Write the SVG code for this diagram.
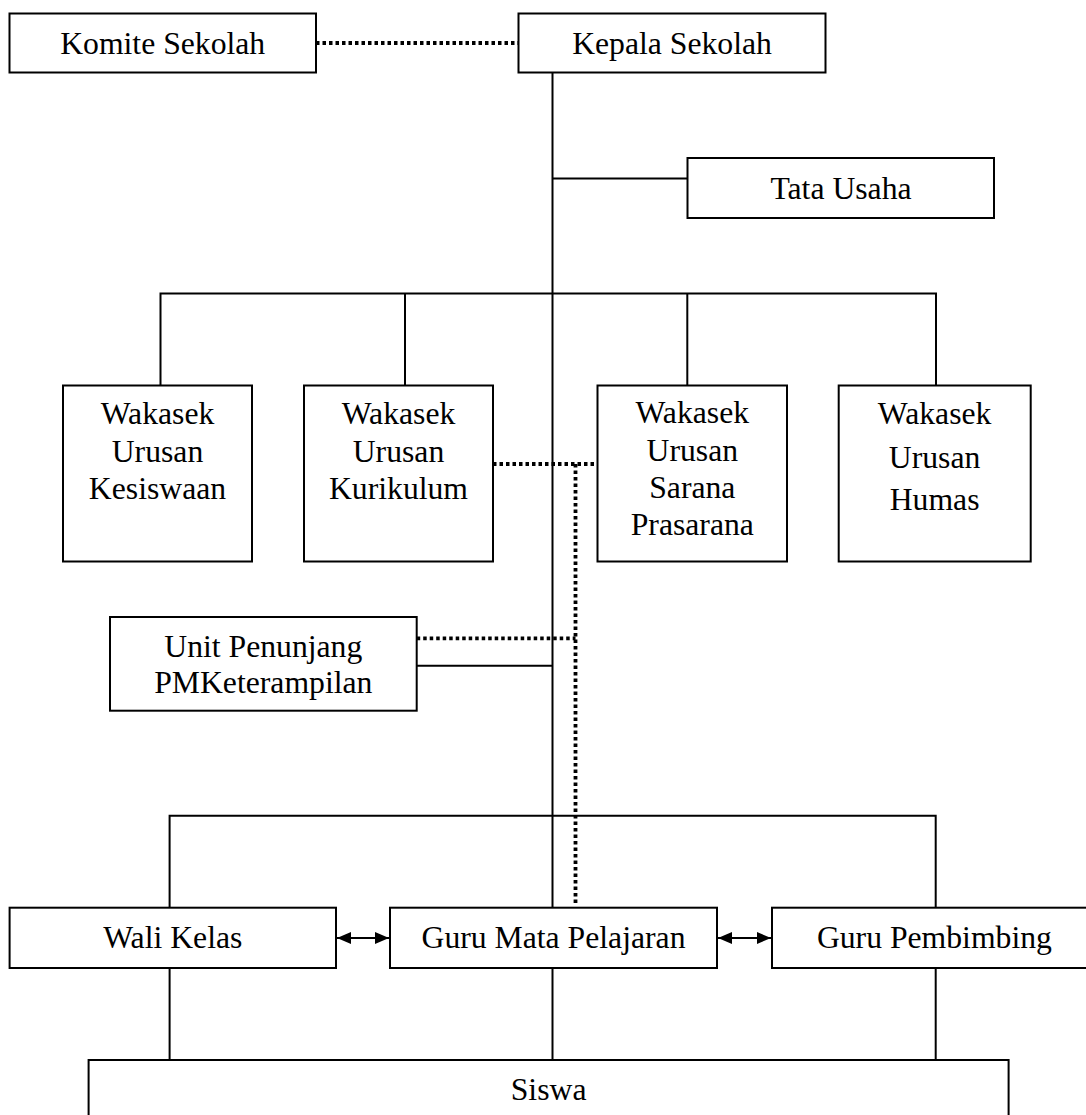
<svg xmlns="http://www.w3.org/2000/svg" width="1086" height="1115" viewBox="0 0 1086 1115">
<style>
.box{fill:#fff;stroke:#000;stroke-width:2}
.t{font-family:"Liberation Serif","Times New Roman",serif;font-size:31.7px;fill:#000;text-anchor:middle}
.ln{fill:none;stroke:#000;stroke-width:2}
.dot{fill:none;stroke:#000;stroke-width:3.8;stroke-dasharray:3.5 3}
.arr{fill:none;stroke:#000;stroke-width:2;marker-start:url(#ah);marker-end:url(#ah)}
</style>
<defs>
<marker id="ah" viewBox="0 0 14 12" refX="14" refY="6" markerWidth="14" markerHeight="12" markerUnits="userSpaceOnUse" orient="auto-start-reverse">
<path d="M0,0 L14,6 L0,12 z" fill="#000"/>
</marker>
</defs>
<rect width="1086" height="1115" fill="#fff"/>
<g id="connectors">
<line class="dot" x1="316" y1="43" x2="518.5" y2="43"/>
<line class="ln" x1="552.5" y1="72.5" x2="552.5" y2="908"/>
<line class="ln" x1="552.5" y1="178.5" x2="687.5" y2="178.5"/>
<polyline class="ln" points="160.5,385.5 160.5,293.5 936,293.5 936,385.5"/>
<line class="ln" x1="405" y1="293.5" x2="405" y2="385.5"/>
<line class="ln" x1="687.3" y1="293.5" x2="687.3" y2="385.5"/>
<line class="dot" x1="493" y1="464" x2="597.5" y2="464"/>
<line class="dot" x1="575.5" y1="464" x2="575.5" y2="906"/>
<line class="dot" x1="416.7" y1="638.3" x2="575.5" y2="638.3"/>
<line class="ln" x1="416.7" y1="665.7" x2="552.5" y2="665.7"/>
<polyline class="ln" points="169.6,907.7 169.6,815.7 935.7,815.7 935.7,907.7"/>
<line class="ln" x1="169.6" y1="968" x2="169.6" y2="1060"/>
<line class="ln" x1="552.5" y1="968" x2="552.5" y2="1060"/>
<line class="ln" x1="935.7" y1="968" x2="935.7" y2="1060"/>
<line class="arr" x1="337" y1="938" x2="389" y2="938"/>
<line class="arr" x1="718" y1="938" x2="771" y2="938"/>
</g>
<g id="komite">
<rect class="box" x="9.5" y="13.5" width="306.5" height="59"/>
<text class="t" x="162.7" y="54">Komite Sekolah</text>
</g>
<g id="kepala">
<rect class="box" x="518.5" y="13.5" width="307" height="59"/>
<text class="t" x="672" y="54">Kepala Sekolah</text>
</g>
<g id="tata-usaha">
<rect class="box" x="687.5" y="158" width="306.5" height="60"/>
<text class="t" x="841" y="198.5">Tata Usaha</text>
</g>
<g id="wakasek-kesiswaan">
<rect class="box" x="63" y="385.5" width="189" height="176"/>
<text class="t" x="157.5" y="424">Wakasek</text>
<text class="t" x="157.5" y="461.7">Urusan</text>
<text class="t" x="157.5" y="499.3">Kesiswaan</text>
</g>
<g id="wakasek-kurikulum">
<rect class="box" x="304" y="385.5" width="189" height="176"/>
<text class="t" x="398.5" y="424">Wakasek</text>
<text class="t" x="398.5" y="461.7">Urusan</text>
<text class="t" x="398.5" y="499.3">Kurikulum</text>
</g>
<g id="wakasek-sarana">
<rect class="box" x="597.5" y="385.5" width="189.5" height="176"/>
<text class="t" x="692.3" y="423.3">Wakasek</text>
<text class="t" x="692.3" y="460.7">Urusan</text>
<text class="t" x="692.3" y="497.7">Sarana</text>
<text class="t" x="692.3" y="535">Prasarana</text>
</g>
<g id="wakasek-humas">
<rect class="box" x="838.7" y="385.5" width="192" height="176"/>
<text class="t" x="934.6" y="424">Wakasek</text>
<text class="t" x="934.6" y="467.7">Urusan</text>
<text class="t" x="934.6" y="510">Humas</text>
</g>
<g id="unit-penunjang">
<rect class="box" x="110" y="617" width="306.7" height="93.7"/>
<text class="t" x="263.3" y="656.7">Unit Penunjang</text>
<text class="t" x="263.3" y="692.7">PMKeterampilan</text>
</g>
<g id="wali-kelas">
<rect class="box" x="9.6" y="907.7" width="326.4" height="60.3"/>
<text class="t" x="172.8" y="947.5">Wali Kelas</text>
</g>
<g id="guru-mapel">
<rect class="box" x="390" y="907.7" width="327" height="60.3"/>
<text class="t" x="553.5" y="947.5">Guru Mata Pelajaran</text>
</g>
<g id="guru-pembimbing">
<rect class="box" x="772" y="907.7" width="320" height="60.3"/>
<text class="t" x="934.4" y="947.5">Guru Pembimbing</text>
</g>
<g id="siswa">
<rect class="box" x="88.6" y="1060" width="920" height="80"/>
<text class="t" x="548.6" y="1100">Siswa</text>
</g>
</svg>
